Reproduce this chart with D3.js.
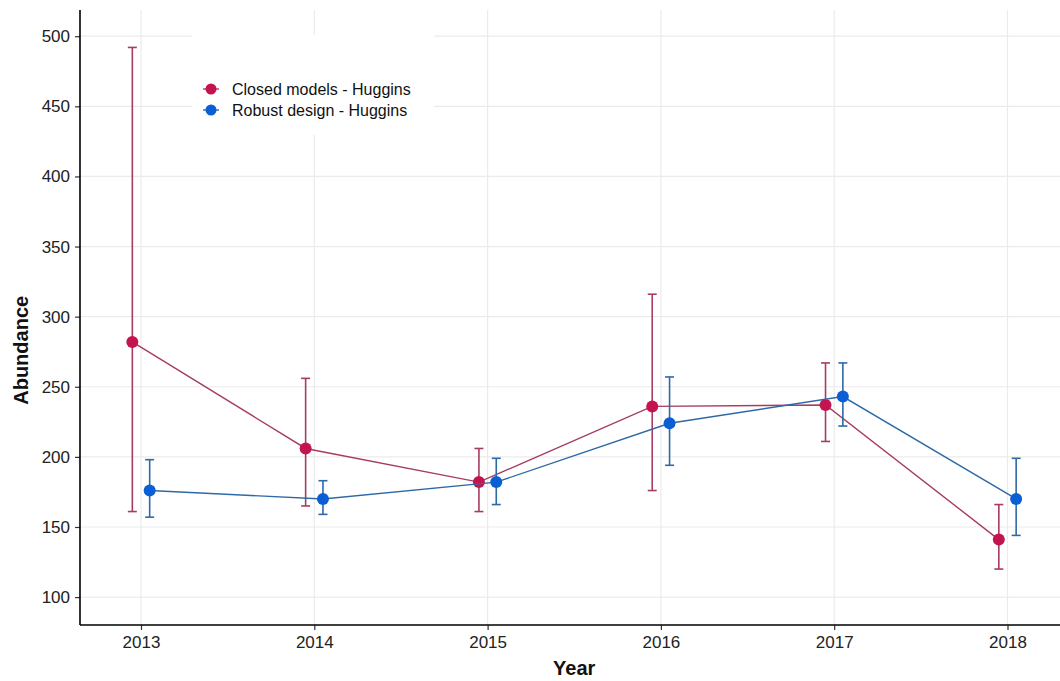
<!DOCTYPE html>
<html>
<head>
<meta charset="utf-8">
<script src="https://cdn.jsdelivr.net/npm/d3@7"></script>
<style>
  html, body { margin: 0; padding: 0; background: #ffffff; }
  svg { display: block; font-family: "Liberation Sans", Arial, sans-serif; }
</style>
</head>
<body>
<svg id="chart" width="1060" height="681"></svg>
<script>
// Abundance estimates per year, with lower / upper confidence limits
const years = [2013, 2014, 2015, 2016, 2017, 2018];

const closedEst   = [282, 206, 182, 236, 237, 141];
const closedLower = [161, 165, 161, 176, 211, 120];
const closedUpper = [492, 256, 206, 316, 267, 166];

const robustEst   = [176, 170, 182, 224, 243, 170];
const robustLower = [157, 159, 166, 194, 222, 144];
const robustUpper = [198, 183, 199, 257, 267, 199];

const seriesNames = ["Closed models - Huggins", "Robust design - Huggins"];
const yTicks = [100, 150, 200, 250, 300, 350, 400, 450, 500];

const styles = [
  { point: "#c4144e", line: "#a63c62", dodge: -0.05 },
  { point: "#0b5fd4", line: "#2e69a6", dodge: 0.05 }
];

const series = [
  years.map((yr, i) => ({ year: yr, est: closedEst[i], lo: closedLower[i], hi: closedUpper[i] })),
  years.map((yr, i) => ({ year: yr, est: robustEst[i], lo: robustLower[i], hi: robustUpper[i] }))
];

const svg = d3.select("#chart");
const W = 1060, H = 681;
const margin = { top: 10, right: 0, bottom: 56, left: 80 };
const innerW = W - margin.left - margin.right;
const innerH = H - margin.top - margin.bottom;

const x = d3.scaleLinear().domain([2012.648, 2018.303]).range([0, innerW]);
const y = d3.scaleLinear().domain([80.1, 518.7]).range([innerH, 0]);

const g = svg.append("g").attr("transform", `translate(${margin.left},${margin.top})`);

// grid
g.append("g").selectAll("line").data(yTicks).join("line")
  .attr("x1", 0).attr("x2", innerW)
  .attr("y1", d => y(d)).attr("y2", d => y(d))
  .attr("stroke", "#ebebeb").attr("stroke-width", 1.2);
g.append("g").selectAll("line").data(years).join("line")
  .attr("x1", d => x(d)).attr("x2", d => x(d))
  .attr("y1", 0).attr("y2", innerH)
  .attr("stroke", "#ebebeb").attr("stroke-width", 1.2);

// series: error bars, connecting line, points
series.forEach((data, s) => {
  const st = styles[s];
  const sg = g.append("g");
  const px = d => x(d.year + st.dodge);

  sg.append("path")
    .datum(data)
    .attr("fill", "none")
    .attr("stroke", st.line)
    .attr("stroke-width", 1.4)
    .attr("d", d3.line().x(px).y(d => y(d.est)));

  const eb = sg.append("g").selectAll("g").data(data).join("g")
    .attr("stroke", st.line).attr("stroke-width", 1.6);
  eb.append("line")
    .attr("x1", px).attr("x2", px)
    .attr("y1", d => y(d.lo)).attr("y2", d => y(d.hi));
  eb.append("line")
    .attr("x1", d => px(d) - 4.5).attr("x2", d => px(d) + 4.5)
    .attr("y1", d => y(d.lo)).attr("y2", d => y(d.lo));
  eb.append("line")
    .attr("x1", d => px(d) - 4.5).attr("x2", d => px(d) + 4.5)
    .attr("y1", d => y(d.hi)).attr("y2", d => y(d.hi));

  sg.append("g").selectAll("circle").data(data).join("circle")
    .attr("cx", px).attr("cy", d => y(d.est))
    .attr("r", 6)
    .attr("fill", st.point);
});

// axes (ticks and labels from d3, axis lines drawn separately)
const xAxis = g.append("g").attr("transform", `translate(0,${innerH})`)
  .call(d3.axisBottom(x).tickValues(years).tickFormat(d3.format("d")).tickSizeOuter(0).tickSize(5).tickPadding(6));
const yAxis = g.append("g")
  .call(d3.axisLeft(y).tickValues(yTicks).tickSizeOuter(0).tickSize(5).tickPadding(5));

[xAxis, yAxis].forEach(a => {
  a.select(".domain").remove();
  a.selectAll(".tick line").attr("stroke", "#333").attr("stroke-width", 1.2);
  a.selectAll(".tick text").attr("fill", "#222").style("font-size", "17px")
    .style("font-family", "'Liberation Sans', Arial, sans-serif");
});
g.append("line").attr("x1", 0).attr("x2", innerW).attr("y1", innerH).attr("y2", innerH)
  .attr("stroke", "#000").attr("stroke-width", 1.6);
g.append("line").attr("x1", 0).attr("x2", 0).attr("y1", 0).attr("y2", innerH)
  .attr("stroke", "#000").attr("stroke-width", 1.6);

// axis titles
svg.append("text")
  .attr("x", margin.left + x(2015.5)).attr("y", 675)
  .attr("text-anchor", "middle")
  .style("font-size", "20px").style("font-weight", "bold").attr("fill", "#111")
  .text("Year");
svg.append("text")
  .attr("transform", `translate(28,${margin.top + y(276)}) rotate(-90)`)
  .attr("text-anchor", "middle")
  .style("font-size", "20px").style("font-weight", "bold").attr("fill", "#111")
  .text("Abundance");

// legend
const legend = svg.append("g").attr("transform", "translate(192,35)");
legend.append("rect").attr("width", 242).attr("height", 100).attr("fill", "#ffffff");
seriesNames.forEach((name, i) => {
  const row = legend.append("g").attr("transform", `translate(0,${54 + i * 21})`);
  row.append("line").attr("x1", 11).attr("x2", 27).attr("y1", 0).attr("y2", 0)
    .attr("stroke", styles[i].line).attr("stroke-width", 1.4);
  row.append("circle").attr("cx", 19).attr("cy", 0).attr("r", 5.5).attr("fill", styles[i].point);
  row.append("text").attr("x", 40).attr("y", 5.5)
    .style("font-size", "16px").attr("fill", "#111").text(name);
});
</script>
</body>
</html>
